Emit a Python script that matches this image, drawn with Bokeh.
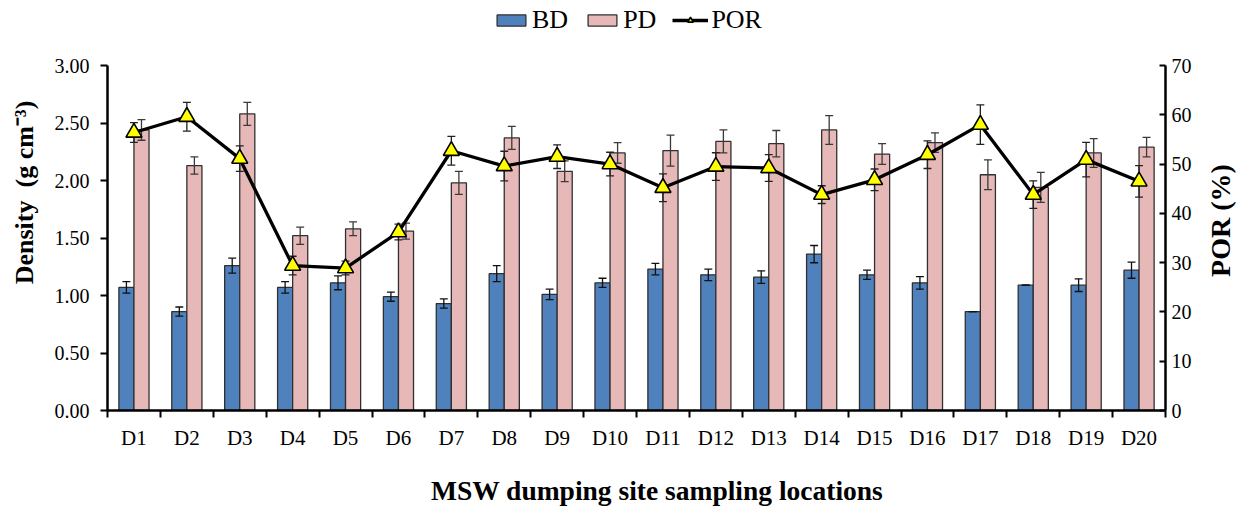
import math
import numpy as np
from bokeh.plotting import figure
from bokeh.layouts import column, row
from bokeh.models import (ColumnDataSource, Range1d, LinearAxis, FixedTicker,
                          NumeralTickFormatter, Legend, LegendItem, Label)
from bokeh.transform import dodge
from bokeh.embed import file_html
from bokeh.resources import INLINE

# Sampling locations
categories = ["D1", "D2", "D3", "D4", "D5", "D6", "D7", "D8", "D9", "D10",
              "D11", "D12", "D13", "D14", "D15", "D16", "D17", "D18", "D19", "D20"]

# Bulk density (g cm-3) and its standard deviation
bd = [1.07, 0.86, 1.26, 1.07, 1.11, 0.99, 0.93, 1.19, 1.01, 1.11,
      1.23, 1.18, 1.16, 1.36, 1.18, 1.11, 0.86, 1.09, 1.09, 1.22]
bd_err = [0.05, 0.04, 0.065, 0.05, 0.06, 0.04, 0.04, 0.07, 0.045, 0.04,
          0.05, 0.05, 0.055, 0.075, 0.04, 0.055, 0.0, 0.0, 0.055, 0.07]

# Particle density (g cm-3) and its standard deviation
pd_ = [2.44, 2.13, 2.58, 1.52, 1.58, 1.56, 1.98, 2.37, 2.08, 2.24,
       2.26, 2.34, 2.32, 2.44, 2.23, 2.33, 2.05, 1.94, 2.24, 2.29]
pd_err = [0.09, 0.075, 0.1, 0.075, 0.06, 0.07, 0.1, 0.1, 0.09, 0.09,
          0.135, 0.1, 0.115, 0.125, 0.09, 0.085, 0.13, 0.13, 0.125, 0.085]

# Porosity (%) and its standard deviation
por = [56.4, 59.6, 51.1, 29.4, 28.9, 36.2, 52.7, 49.6, 51.5, 50.0,
       45.2, 49.5, 49.2, 43.8, 46.8, 51.9, 58.0, 43.8, 50.9, 46.5]
por_err = [2.0, 2.9, 2.6, 1.9, 1.4, 1.6, 2.9, 3.0, 2.4, 2.4,
           2.8, 2.8, 2.7, 1.8, 2.2, 2.8, 4.0, 2.8, 3.5, 3.2]

density_ticks = [0.0, 0.5, 1.0, 1.5, 2.0, 2.5, 3.0]
por_ticks = [0, 10, 20, 30, 40, 50, 60, 70]

FONT = "Liberation Serif"
BD_COLOR = "#4F81BD"
PD_COLOR = "#E6B9B8"
EDGE = "#303030"
TRI_COLOR = "#FFFF00"
NB = "\u00a0"  # non-breaking space, used to nudge axis titles along their axis

W = 1237
H = 508
LEG_H = 42          # legend strip on top
SIDE_W = 34         # strip on the right holding the porosity title
TOP, BOTTOM, LEFT, RIGHT = 65 - LEG_H, 98, 107, 38

n = len(categories)
xc = np.arange(n) + 0.5
bw = 0.285
cap = 0.075

src = ColumnDataSource(dict(
    x=xc,
    bd=bd, bd_lo=np.array(bd) - np.array(bd_err), bd_hi=np.array(bd) + np.array(bd_err),
    pd=pd_, pd_lo=np.array(pd_) - np.array(pd_err), pd_hi=np.array(pd_) + np.array(pd_err),
    por=por, por_lo=np.array(por) - np.array(por_err), por_hi=np.array(por) + np.array(por_err),
))

p = figure(width=W - SIDE_W, height=H - LEG_H, x_range=Range1d(0, n), y_range=Range1d(0, 3),
           output_backend="svg", toolbar_location=None,
           min_border_left=LEFT, min_border_right=RIGHT, min_border_top=TOP,
           min_border_bottom=BOTTOM)
p.extra_y_ranges = {"por": Range1d(0, 70)}
p.outline_line_color = None
p.xgrid.visible = False
p.ygrid.visible = False


def off(d):
    return dodge("x", d, range=p.x_range)


# Bars
p.vbar(x=off(-bw / 2), width=bw, top="bd", bottom=0, source=src,
       fill_color=BD_COLOR, line_color=EDGE, line_width=1.3)
p.vbar(x=off(bw / 2), width=bw, top="pd", bottom=0, source=src,
       fill_color=PD_COLOR, line_color=EDGE, line_width=1.3)

# Error bars on the bars
for d, lo, hi, col in [(-bw / 2, "bd_lo", "bd_hi", "#111111"), (bw / 2, "pd_lo", "pd_hi", "#3a3a3a")]:
    p.segment(x0=off(d), y0=lo, x1=off(d), y1=hi, source=src, line_color=col, line_width=1.3)
    p.segment(x0=off(d - cap), y0=lo, x1=off(d + cap), y1=lo, source=src, line_color=col, line_width=1.3)
    p.segment(x0=off(d - cap), y0=hi, x1=off(d + cap), y1=hi, source=src, line_color=col, line_width=1.3)

# Porosity line with error bars and triangle markers
p.line(x="x", y="por", source=src, y_range_name="por", line_color="black", line_width=3.3)
p.segment(x0="x", y0="por_lo", x1="x", y1="por_hi", source=src, y_range_name="por",
          line_color="#222222", line_width=1.3)
p.segment(x0=off(-cap), y0="por_lo", x1=off(cap), y1="por_lo", source=src, y_range_name="por",
          line_color="#222222", line_width=1.3)
p.segment(x0=off(-cap), y0="por_hi", x1=off(cap), y1="por_hi", source=src, y_range_name="por",
          line_color="#222222", line_width=1.3)
p.scatter(x="x", y="por", source=src, y_range_name="por", marker="triangle", size=16,
          fill_color=TRI_COLOR, line_color="black", line_width=1.6)

# Bottom axis: labels centred on each location, tick marks between locations
xa = p.xaxis[0]
xa.ticker = FixedTicker(ticks=list(xc), minor_ticks=list(range(n + 1)))
xa.major_label_overrides = {float(x): c for x, c in zip(xc, categories)}
xa.major_tick_out = 0
xa.major_tick_in = 0
xa.minor_tick_out = 7
xa.minor_tick_in = 0
xa.minor_tick_line_width = 2
xa.minor_tick_line_color = "black"
xa.axis_line_width = 2.5
xa.axis_line_color = "black"
xa.major_label_text_font = FONT
xa.major_label_text_font_size = "21px"
xa.major_label_text_color = "black"
xa.major_label_standoff = 8
xa.axis_label = NB * 6 + "MSW dumping site sampling locations"
xa.axis_label_text_font = FONT
xa.axis_label_text_font_size = "27.5px"
xa.axis_label_text_font_style = "bold"
xa.axis_label_text_color = "black"
xa.axis_label_standoff = 22

# Left axis: density
ya = p.yaxis[0]
ya.ticker = FixedTicker(ticks=density_ticks)
ya.formatter = NumeralTickFormatter(format="0.00")
ya.major_tick_out = 7
ya.major_tick_in = 0
ya.minor_tick_out = 0
ya.minor_tick_in = 0
ya.major_tick_line_width = 2
ya.axis_line_width = 2.5
ya.axis_line_color = "black"
ya.major_tick_line_color = "black"
ya.major_label_text_font = FONT
ya.major_label_text_font_size = "20px"
ya.major_label_text_color = "black"
ya.major_label_standoff = 11
ya.axis_label = NB * 14 + "Density" + NB + " (g cm\u207b\u00b3)"
ya.axis_label_text_font = FONT
ya.axis_label_text_font_size = "26px"
ya.axis_label_text_font_style = "bold"
ya.axis_label_text_color = "black"
ya.axis_label_standoff = 13

# Right axis: porosity (its title sits in the side strip)
ra = LinearAxis(y_range_name="por", ticker=FixedTicker(ticks=por_ticks))
ra.major_tick_out = 0
ra.major_tick_in = 6
ra.minor_tick_out = 0
ra.minor_tick_in = 0
ra.major_tick_line_width = 2
ra.axis_line_width = 2.5
ra.axis_line_color = "black"
ra.major_tick_line_color = "black"
ra.major_label_text_font = FONT
ra.major_label_text_font_size = "20px"
ra.major_label_text_color = "black"
ra.major_label_standoff = 6
p.add_layout(ra, "right")

# Side strip with the porosity axis title, reading bottom to top
side = figure(width=SIDE_W, height=H - LEG_H, x_range=Range1d(0, 1), y_range=Range1d(0, 1),
              output_backend="svg", toolbar_location=None,
              min_border_left=0, min_border_right=0, min_border_top=TOP,
              min_border_bottom=BOTTOM, x_axis_location=None, y_axis_location=None)
side.outline_line_color = None
side.xgrid.visible = False
side.ygrid.visible = False
side.add_layout(Label(x=17, y=190, x_units="screen", y_units="screen", text="POR (%)",
                      angle=math.pi / 2, text_align="center", text_baseline="middle",
                      text_font=FONT, text_font_size="28px", text_font_style="bold",
                      text_color="black"))

# Legend strip above the chart
lp = figure(width=W, height=LEG_H, x_range=Range1d(0, 1), y_range=Range1d(0, 1),
            output_backend="svg", toolbar_location=None,
            min_border_left=LEFT, min_border_right=RIGHT + SIDE_W, min_border_top=0,
            min_border_bottom=0, x_axis_location=None, y_axis_location=None)
lp.outline_line_color = None
lp.xgrid.visible = False
lp.ygrid.visible = False
nan = [float("nan")]
k_bd = lp.vbar(x=nan, top=nan, width=0.1, fill_color=BD_COLOR, line_color=EDGE, line_width=1.3)
k_pd = lp.vbar(x=nan, top=nan, width=0.1, fill_color=PD_COLOR, line_color=EDGE, line_width=1.3)
k_ln = lp.line(x=nan, y=nan, line_color="black", line_width=3.3)
k_tr = lp.scatter(x=nan, y=nan, marker="triangle", size=18, fill_color=TRI_COLOR,
                  line_color="black", line_width=1.6)

legend = Legend(items=[LegendItem(label="BD", renderers=[k_bd]),
                       LegendItem(label="PD", renderers=[k_pd]),
                       LegendItem(label="POR", renderers=[k_ln, k_tr])],
                location=(386, 7), orientation="horizontal")
legend.background_fill_alpha = 0
legend.border_line_alpha = 0
legend.padding = 0
legend.margin = 0
legend.spacing = 16
legend.label_standoff = 3
legend.glyph_width = 36
legend.glyph_height = 14
legend.label_text_font = FONT
legend.label_text_font_size = "26px"
legend.label_text_color = "black"
lp.add_layout(legend)

layout = column(lp, row(p, side, spacing=0), spacing=0)
open("out.html", "w").write(file_html(layout, INLINE))
